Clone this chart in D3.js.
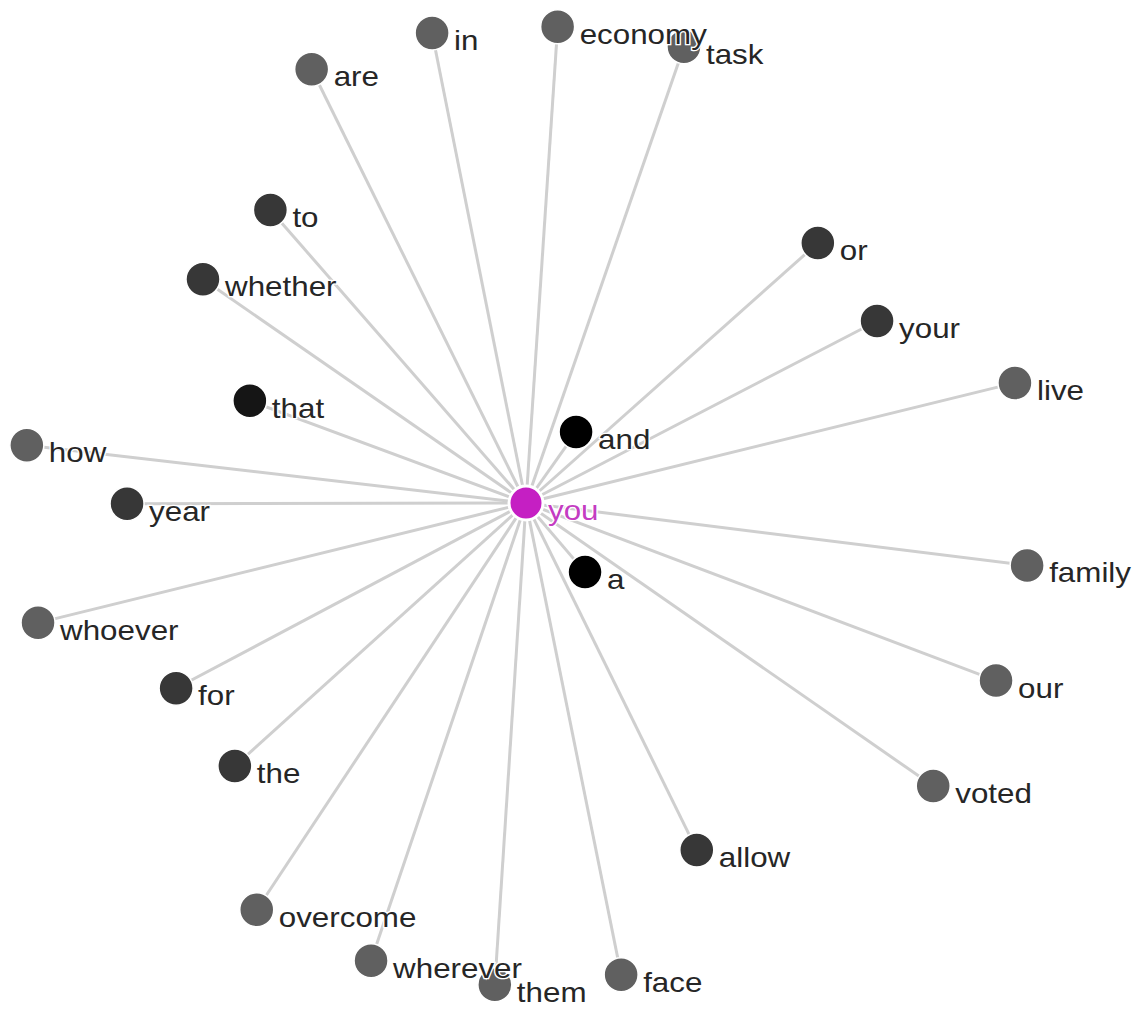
<!DOCTYPE html>
<html lang="en">
<head>
    <meta charset="UTF-8">
    <title>you - word network</title>
    <script src="https://d3js.org/d3.v7.min.js"></script>
    <style>
        body { margin: 0; background: #fff; }
        .link { stroke: #cfcfcf; stroke-width: 3; }
        .node circle { stroke: #fff; stroke-width: 1.5; }
        .label {
            font-family: "Liberation Sans", Arial, sans-serif;
            font-size: 28px;
            fill: #262626;
            stroke: #fff;
            stroke-width: 2.5px;
            paint-order: stroke;
        }
    </style>
</head>
<body>
<script>
    const width = 1140;
    const height = 1009;

    const centerWord = "you";

    // words linked to the centre word
    const words = ["in", "economy", "task", "are", "to", "whether", "or", "your", "live", "that",
                   "and", "how", "year", "family", "a", "whoever", "for", "our", "the", "voted",
                   "allow", "overcome", "wherever", "them", "face"];
    // direction of each word from the centre, degrees clockwise from east
    const angles = [-101.3, -86.2, -70.9, -116.3, -131.1, -145.3, -41.7, -27.4, -13.8, -159.7,
                    -54.8, -173.4, 179.9, 7.1, 49.5, 166.2, 152.1, 20.7, 137.9, 34.8,
                    63.8, 123.5, 108.7, 93.7, 78.6];
    // distance from the centre (0-100)
    const distances = [94.9, 94.5, 95.6, 95.8, 77.0, 77.8, 77.4, 78.3, 99.7, 58.3,
                       17.2, 99.5, 79.0, 100, 18.0, 99.5, 78.4, 99.5, 77.7, 98.2,
                       76.6, 96.6, 95.7, 95.6, 95.3];
    // shade group: 0 grey, 1 dark, 2 darker, 3 black
    const groups = [0, 0, 0, 0, 1, 1, 1, 1, 0, 2,
                    3, 0, 1, 0, 3, 0, 1, 0, 1, 0,
                    1, 0, 0, 0, 0];

    const shade = d3.scaleOrdinal().domain([0, 1, 2, 3])
        .range(["#606060", "#373737", "#151515", "#000000"]);

    const cx = 526, cy = 503;
    const r = d3.scaleLinear().domain([0, 100]).range([0, 505]);

    const nodes = words.map((w, i) => {
        const a = angles[i] * Math.PI / 180;
        return {
            word: w,
            group: groups[i],
            x: cx + r(distances[i]) * Math.cos(a),
            y: cy + r(distances[i]) * Math.sin(a)
        };
    });

    const svg = d3.select("body").append("svg")
        .attr("width", width).attr("height", height);

    svg.selectAll("line.link").data(nodes).enter()
        .append("line").attr("class", "link")
        .attr("x1", cx).attr("y1", cy)
        .attr("x2", d => d.x).attr("y2", d => d.y);

    svg.selectAll("g.node").data(nodes).enter()
        .append("g").attr("class", "node")
        .attr("transform", d => `translate(${d.x},${d.y})`)
        .append("circle").attr("r", 17).attr("fill", d => shade(d.group));

    // centre word
    svg.append("g").attr("class", "node")
        .attr("transform", `translate(${cx},${cy})`)
        .append("circle").attr("r", 17).attr("fill", "#c51fc3")
        .style("stroke-width", 3);

    // labels go on top of every circle
    svg.selectAll("text.label").data(nodes).enter()
        .append("text").attr("class", "label")
        .attr("transform", d => `translate(${d.x + 22},${d.y + 17}) scale(1.12,1)`)
        .text(d => d.word);

    svg.append("text").attr("class", "label")
        .attr("transform", `translate(${cx + 22},${cy + 17}) scale(1.12,1)`)
        .style("fill", "#c43cc2")
        .text(centerWord);
</script>
</body>
</html>
